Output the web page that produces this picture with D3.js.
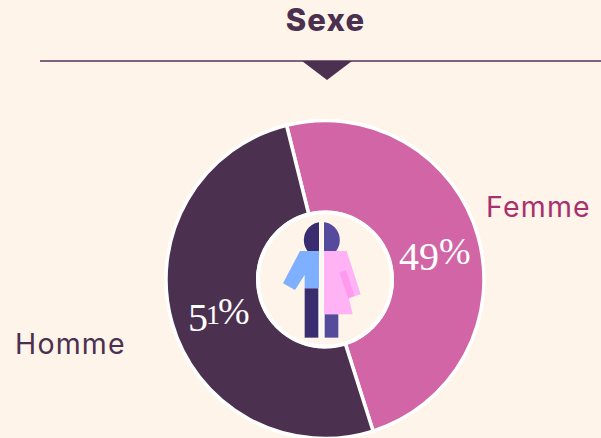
<!DOCTYPE html>
<html><head><meta charset="utf-8">
<script src="https://cdn.jsdelivr.net/npm/d3@7"></script>
<style>html,body{margin:0;padding:0;background:#fff4e9;overflow:hidden}svg{display:block}</style>
</head><body><svg id="c" width="601" height="438"></svg>
<script>
const categories = ["Femme", "Homme"];
const values = [49, 51];
const sliceColors = ["#d165a5", "#4c3050"];
const labelColors = ["#a8306f", "#4c3050"];
const title = "Sexe";

const svg = d3.select("#c");
svg.append("rect").attr("width",601).attr("height",438).attr("fill","#fff4e9");
svg.append("text").attr("x",325.5).attr("y",31).attr("text-anchor","middle")
  .attr("font-family","Inter").attr("font-weight",800).attr("font-size",31).attr("letter-spacing",1.2).attr("fill","#4c3050").text(title);
svg.append("line").attr("x1",40).attr("x2",601).attr("y1",61).attr("y2",61).attr("stroke","#7d6380").attr("stroke-width",2);
svg.append("path").attr("d","M302,61L352,61L327,80Z").attr("fill","#4c3050");

const cx=325, cy=279.5, start=-14*Math.PI/180;
const pie=d3.pie().sort(null).startAngle(start).endAngle(start+2*Math.PI);
const arcs=pie(values);
const arc=d3.arc().innerRadius(67).outerRadius(159);
const g=svg.append("g").attr("transform",`translate(${cx},${cy})`);
g.selectAll("path").data(arcs).join("path").attr("d",arc)
  .attr("fill",(d,i)=>sliceColors[i]).attr("stroke","#fff").attr("stroke-width",3.5);
g.append("circle").attr("r",67).attr("fill","#fff4e9").attr("stroke","#fff").attr("stroke-width",4);

// percent labels: each glyph sized and shifted to imitate old-style numerals
const labelPos=[[399,264],[188,324]];
const digitStyle={"4":[40,6,0],"9":[40,6,0],"5":[40,7,-2],"1":[28,0,-2],"%":[38,0,0]};
svg.selectAll("text.pct").data(values).join("text").attr("class","pct")
  .attr("x",(d,i)=>labelPos[i][0]).attr("y",(d,i)=>labelPos[i][1])
  .attr("font-family","Liberation Serif").attr("fill","#fff")
  .each(function(d){
    const t=d3.select(this); let prev=0;
    for(const ch of (d+"%")){
      const [fs,off,ls]=digitStyle[ch];
      t.append("tspan").attr("dy",off-prev).attr("font-size",fs).attr("letter-spacing",ls).text(ch);
      prev=off;
    }
  });
const catPos=[[486,217],[15,354]];
svg.selectAll("text.cat").data(categories).join("text").attr("class","cat")
  .attr("x",(d,i)=>catPos[i][0]).attr("y",(d,i)=>catPos[i][1])
  .attr("font-family","Inter").attr("font-size",28.5).attr("letter-spacing",1.2).attr("font-weight",400).attr("fill",(d,i)=>labelColors[i]).text(d=>d);

// central icon, drawn in zoom-crop units
const ic=svg.append("g").attr("transform","translate(250,200) scale(0.3333)");
const defs=svg.append("defs");
defs.append("clipPath").attr("id","hl").append("rect").attr("x",100).attr("y",0).attr("width",107).attr("height",300);
defs.append("clipPath").attr("id","hr").append("rect").attr("x",222).attr("y",0).attr("width",107).attr("height",300);
const poly=(p,f)=>ic.append("path").attr("d","M"+p.map(q=>q.join(",")).join("L")+"Z").attr("fill",f);
ic.append("rect").attr("x",205).attr("y",66).attr("width",19).attr("height",347).attr("fill","#fff");
ic.append("rect").attr("x",211).attr("y",60).attr("width",7).attr("height",360).attr("fill","#fff4e9");
ic.append("circle").attr("cx",215.5).attr("cy",120).attr("r",54).attr("fill","#3a2d6f").attr("clip-path","url(#hl)");
ic.append("circle").attr("cx",215.5).attr("cy",120).attr("r",54).attr("fill","#564a9c").attr("clip-path","url(#hr)");
poly([[150,153],[207,153],[207,265],[164,265],[164,225],[135,270],[99,250]],"#7fb0ff");
poly([[164,265],[205,265],[205,413],[164,413]],"#3a2d6f");
poly([[222,153],[290,153],[332,283],[297,295],[308,343],[222,343]],"#ffb3f5");
poly([[268,218],[288,210],[313,287],[295,295]],"#ff99ee");
poly([[224,343],[265,343],[265,413],[224,413]],"#564a9c");
</script></body></html>
